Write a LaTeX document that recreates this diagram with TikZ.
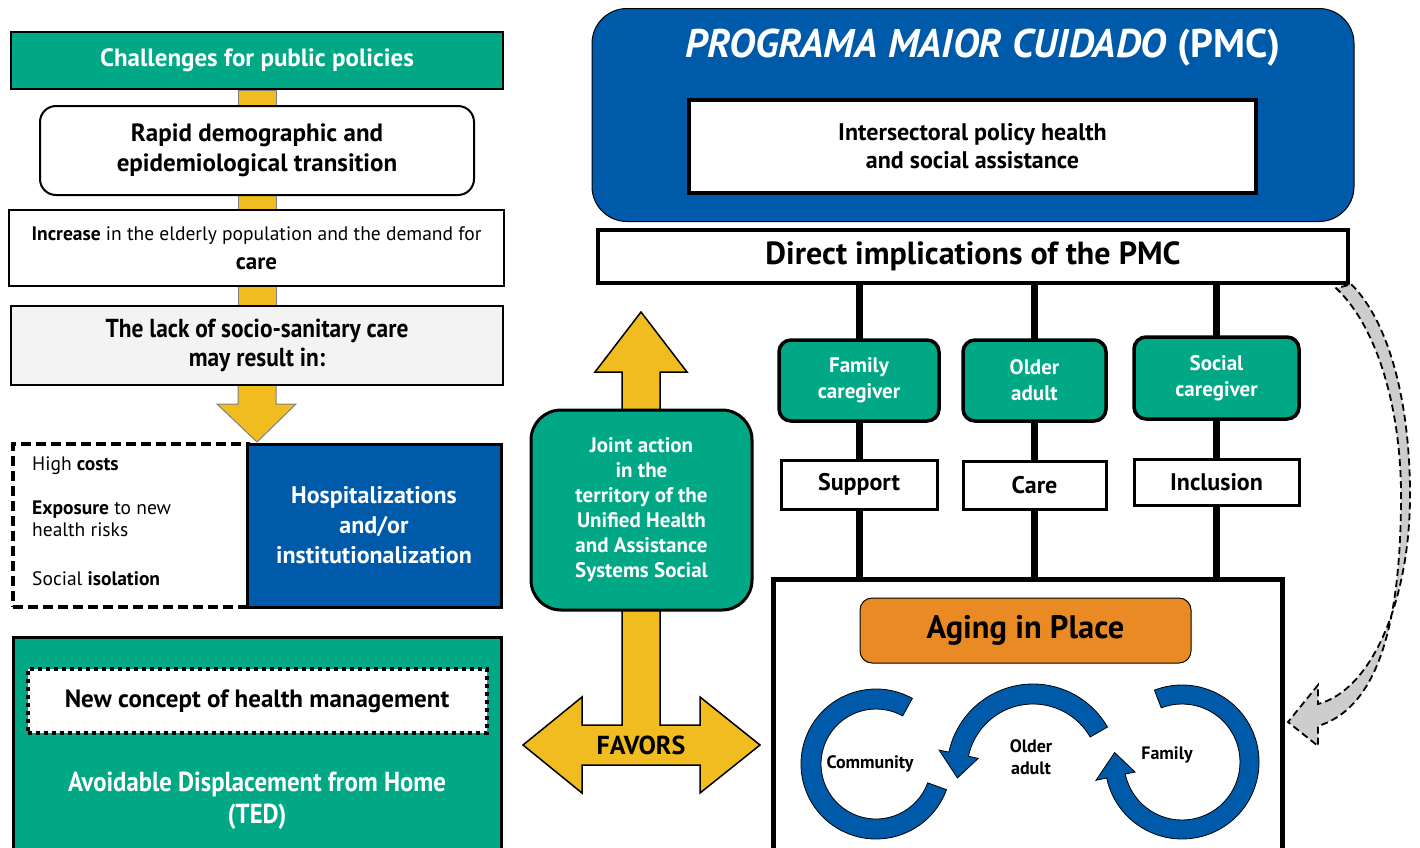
\documentclass[tikz,border=0pt]{standalone}
\usepackage{fontspec}
\setmainfont{PT Sans}
\newfontfamily\narrowfont[FakeStretch=0.9]{PT Sans}
\usetikzlibrary{calc,backgrounds}
\definecolor{pmcgreen}{RGB}{0,168,134}
\definecolor{pmcblue}{RGB}{0,90,170}
\definecolor{pmcyellow}{RGB}{240,188,32}
\definecolor{pmcorange}{RGB}{233,138,37}
\definecolor{lightbox}{RGB}{242,243,242}
\definecolor{curvegray}{RGB}{205,205,205}
\newcommand\fsz[2]{\fontsize{#1}{#2}\selectfont}
\tikzset{
  greenhead/.style={draw=black, line width=2pt, fill=pmcgreen, text=white, font=\bfseries\fsz{25}{29}},
  whitebox/.style={draw=black, line width=2pt, fill=white},
  thickbox/.style={draw=black, line width=4.5pt, fill=white},
  gbox/.style={draw=black, line width=3.5pt, fill=pmcgreen, rounded corners=12pt, text=white, font=\bfseries\fsz{21}{26}},
  wbox/.style={draw=black, line width=3pt, fill=white, font=\bfseries\fsz{24}{26}},
  yelfill/.style={fill=pmcyellow, draw=gray, line width=1pt},
  bigarrow/.style={fill=pmcyellow, draw=black, line width=1.5pt, line join=miter},
  vline/.style={line width=7pt, draw=black},
  circarrow/.style={fill=pmcblue, draw=black, line width=0.8pt},
  lbl/.style={font=\bfseries\fsz{18}{22}},
  smalltxt/.style={font=\fsz{19.5}{22}, anchor=west, align=left},
}
\begin{document}
\begin{tikzpicture}[x=1pt, y=-1pt, every node/.style={inner sep=0pt, align=center}]
\useasboundingbox (0,0) rectangle (1420,847);

% ---------------- left column ----------------
\node[greenhead, minimum width=492, minimum height=57] (chal) at (257,60.5) {Challenges for public policies};
\node[whitebox, rounded corners=16pt, minimum width=434, minimum height=89, font=\bfseries\fsz{25}{30}] (rapid) at (257,150.5) {Rapid demographic and\\epidemiological transition};
\node[whitebox, minimum width=495, minimum height=76, font=\fsz{19.5}{29}] (incr) at (256.5,248) {\textbf{Increase} in the elderly population and the demand for\\{\bfseries\fsz{23}{29}care}};
\node[whitebox, fill=lightbox, minimum width=492, minimum height=79, font=\narrowfont\bfseries\fsz{26}{29}] (lack) at (257,345.5) {The lack of socio-sanitary care\\may result in:};
\draw[yelfill] ($(lack.south)+(-19,0)$) -- ++(0,18) -- ++(-21,0) -- ($(lack.south)+(0,56)$) -- ++(39,-38) -- ++(-20,0) -- ($(lack.south)+(19,0)$);

\node[draw=black, line width=4pt, dash pattern=on 10pt off 5pt, minimum width=235, minimum height=163] (risks) at (130.5,525.5) {};
\node[smalltxt] (costs) at (32,466) {High \textbf{costs}};
\node[smalltxt] (expo) at (32,519) {\textbf{Exposure} to new\\health risks};
\node[smalltxt] (isol) at (32,579) {Social \textbf{isolation}};
\node[draw=black, line width=3pt, fill=pmcblue, text=white, minimum width=254, minimum height=163, font=\bfseries\fsz{24}{30}] (hosp) at (374,525.5) {Hospitalizations\\and/or\\institutionalization};

\node[draw=black, line width=3pt, fill=pmcgreen, minimum width=488, minimum height=220] (ted) at (257,747) {};
\node[draw=black, line width=4pt, dash pattern=on 4pt off 4pt, fill=white, minimum width=459, minimum height=64, font=\bfseries\fsz{25}{29}] (newc) at (257,701) {New concept of health management};
\node[text=white, font=\narrowfont\bfseries\fsz{27.5}{32}] (avoid) at (257,801) {Avoidable Displacement from Home\\(TED)};

% ---------------- middle ----------------
\coordinate (favc) at (641,745);
\begin{scope}[shift={(favc)}]
\draw[bigarrow] (0,-433) -- (46,-373) -- (19,-373) -- (19,-20) -- (59,-20) -- (59,-48) -- (119,0) -- (59,48) -- (59,20)
  -- (-59,20) -- (-59,48) -- (-118,0) -- (-59,-48) -- (-59,-20) -- (-19,-20) -- (-19,-373) -- (-46,-373) -- cycle;
\end{scope}
\node[draw=black, line width=3pt, fill=pmcgreen, rounded corners=30pt, minimum width=221, minimum height=200, text=white, font=\bfseries\fsz{21}{25}] (joint) at (641.5,510) {Joint action\\in the\\territory of the\\Unified Health\\and Assistance\\Systems Social};
\node[font=\bfseries\fsz{26}{26}] (favors) at (favc) {FAVORS};

% ---------------- right ----------------
\node[draw=black, line width=1pt, fill=pmcblue, rounded corners=35pt, minimum width=762, minimum height=213] (pmc) at (973,115) {};
\node[text=white, font=\bfseries\fsz{40}{40}] (title) at (983,48) {\textit{PROGRAMA MAIOR CUIDADO} (PMC)};
\node[thickbox, minimum width=567, minimum height=93, font=\bfseries\fsz{24}{28}] (inter) at (972.5,146.5) {Intersectoral policy health\\and social assistance};
\node[thickbox, minimum width=750, minimum height=53, font=\bfseries\fsz{32}{36}] (direct) at (973,256.5) {Direct implications of the PMC};

\node[gbox, minimum width=160, minimum height=81] (fam) at (859,380.5) {Family\\caregiver};
\node[gbox, minimum width=143, minimum height=81] (old) at (1034.5,380.5) {Older\\adult};
\node[gbox, minimum width=165, minimum height=82] (soc) at (1216.5,378) {Social\\caregiver};
\node[wbox, minimum width=156, minimum height=49] (sup) at (859,484.5) {Support};
\node[wbox, minimum width=143, minimum height=48] (care) at (1034.5,485) {Care};
\node[wbox, minimum width=165, minimum height=46] (incl) at (1216.5,482) {Inclusion};

\node[draw=black, line width=5pt, fill=white, minimum width=509, minimum height=280] (aging) at (1027.5,719) {};
\node[draw=black, line width=1pt, fill=pmcorange, rounded corners=12pt, minimum width=331, minimum height=65, font=\bfseries\fsz{32.5}{36}] (place) at (1025.5,630.5) {Aging in Place};

% circular arrows
\begin{scope}[shift={(876,764)}, y=1pt]
\draw[circarrow] (61:75) arc[start angle=61, end angle=340, radius=75] -- (340:55) arc[start angle=340, end angle=61, radius=55] -- cycle;
\end{scope}
\begin{scope}[shift={(1033,770)}, y=1pt]
\draw[circarrow] (30:86) arc[start angle=30, end angle=168, radius=86] -- (168:96) -- (186:76) -- (168:56) -- (168:66) arc[start angle=168, end angle=30, radius=66] -- cycle;
\end{scope}
\begin{scope}[shift={(1182,762)}, y=1pt]
\draw[circarrow] (111:77) arc[start angle=111, end angle=-168, radius=77] -- (-168:88) -- (-188:68) -- (-168:48) -- (-168:58) arc[start angle=-168, end angle=111, radius=58] -- cycle;
\end{scope}
\node[lbl] (comm) at (870,764) {Community};
\node[lbl] (olda) at (1031,757) {Older\\adult};
\node[lbl] (famlbl) at (1167,755) {Family};

% dashed curved arrow
\coordinate (cstart) at (direct.south east);
\coordinate (ctip) at (1288,722);
\draw[line width=1.8pt, dash pattern=on 7pt off 4pt, fill=curvegray] ($(cstart)+(1,-1)$) .. controls (1392,325) and (1410,410) .. (1410,495)
  .. controls (1410,600) and (1372,690) .. (1318,704) -- (1318,685) -- (ctip) -- (1318,746) -- (1318,726)
  .. controls (1383,706) and (1401,610) .. (1401,495) .. controls (1401,415) and (1380,330) .. ($(cstart)+(-14,3)$) -- cycle;

% ---------------- background connectors ----------------
\begin{pgfonlayer}{background}
\draw[yelfill] ($(chal.south)+(-19,0)$) rectangle ($(lack.north)+(19,0)$);
\draw[vline] (direct.south -| fam.center) -- (aging.north -| fam.center);
\draw[vline] (direct.south -| old.center) -- (aging.north -| old.center);
\draw[vline] (direct.south -| soc.center) -- (aging.north -| soc.center);
\end{pgfonlayer}
\end{tikzpicture}
\end{document}
